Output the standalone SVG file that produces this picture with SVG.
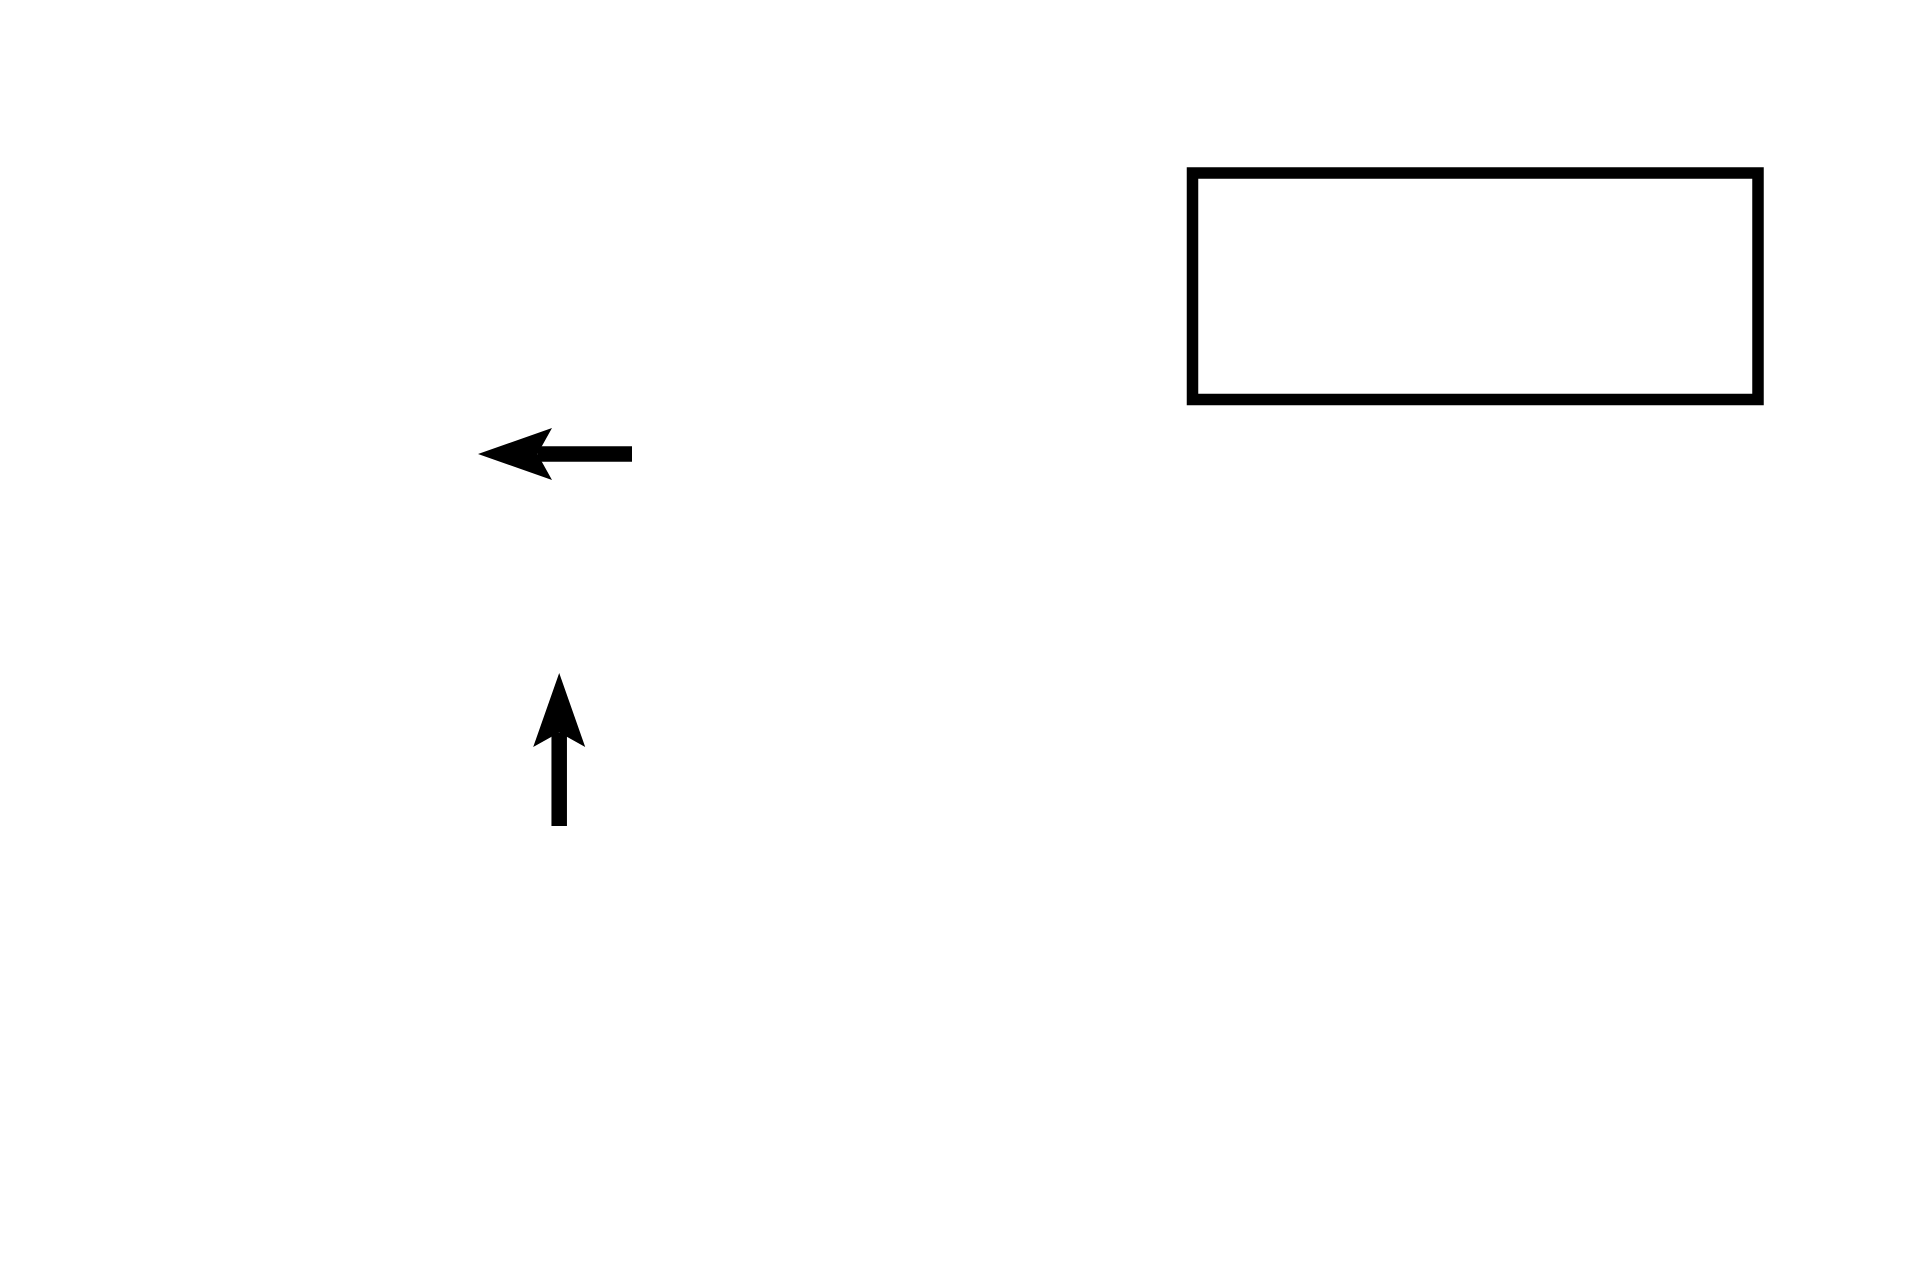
<svg xmlns="http://www.w3.org/2000/svg" width="1920" height="1280" viewBox="0 0 1920 1280">
  <style>
    .node { fill: none; stroke: #000; stroke-width: 11.5; }
    .edge { fill: none; stroke: #000; stroke-width: 15.5; stroke-linecap: butt; }
  </style>
  <defs>
    <marker id="arrow" markerUnits="userSpaceOnUse" markerWidth="74" markerHeight="52" viewBox="0 0 74 52" refX="14.5" refY="26" orient="auto" overflow="visible">
      <path d="M0,0 L74,26 L0,52 L14.5,26 z" fill="#000"/>
    </marker>
  </defs>
  <rect width="1920" height="1280" fill="#fff"/>
  <g id="box">
    <rect class="node" x="1192.5" y="173" width="565.5" height="226.5"/>
  </g>
  <g id="connectors">
    <line class="edge" x1="632" y1="454" x2="537.5" y2="454" marker-end="url(#arrow)"/>
    <line class="edge" x1="559.2" y1="826" x2="559.2" y2="732.5" marker-end="url(#arrow)"/>
  </g>
</svg>
